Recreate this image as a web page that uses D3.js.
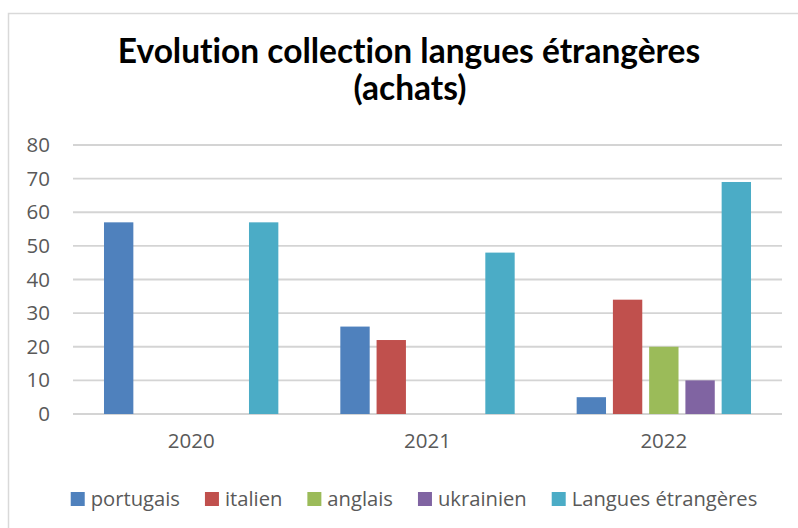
<!DOCTYPE html>
<html>
<head>
<meta charset="utf-8">
<script src="https://cdn.jsdelivr.net/npm/d3@7"></script>
<style>
  body { margin: 0; background: #fff; }
</style>
</head>
<body>
<div class="svgcontainer"></div>
<script>
// data
const years = ['2020', '2021', '2022'];
const series = ['portugais', 'italien', 'anglais', 'ukrainien', 'Langues étrangères'];
const portugais = [57, 26, 5];
const italien = [0, 22, 34];
const anglais = [0, 0, 20];
const ukrainien = [0, 0, 10];
const languesEtrangeres = [57, 48, 69];
const yTicks = [0, 10, 20, 30, 40, 50, 60, 70, 80];
const colors = ['#4f81bd', '#c0504d', '#9bbb59', '#8064a2', '#4bacc6'];

const values = [portugais, italien, anglais, ukrainien, languesEtrangeres];

const svg = d3
  .select('.svgcontainer')
  .append('svg')
  .attr('width', 798)
  .attr('height', 528);

// chart frame (right and bottom edges fall outside the picture)
svg.append('rect')
  .attr('x', 8.5)
  .attr('y', 13.5)
  .attr('width', 820)
  .attr('height', 560)
  .attr('fill', '#fff')
  .attr('stroke', '#d9d9d9')
  .attr('stroke-width', 1.5);

// title
const title = svg.append('text')
  .attr('text-anchor', 'middle')
  .style('font-family', 'Lato, sans-serif')
  .style('font-weight', 'bold')
  .style('font-size', '33.5px')
  .style('font-variant-ligatures', 'none')
  .attr('fill', '#000');
title.append('tspan').attr('x', 409).attr('y', 63).text('Evolution collection langues étrangères');
title.append('tspan').attr('x', 410).attr('y', 100).text('(achats)');

const plotLeft = 73, plotRight = 782, plotTop = 145, plotBottom = 414;

const x0 = d3.scaleBand()
  .domain(years)
  .range([plotLeft, plotRight])
  .padding(0);

const x1 = d3.scaleBand()
  .domain(series)
  .range([0, x0.bandwidth()])
  .paddingInner(0.19)
  .paddingOuter(0.855);

const y = d3.scaleLinear()
  .domain([0, 80])
  .range([plotBottom, plotTop]);

// gridlines
svg.append('g')
  .selectAll('line')
  .data(yTicks)
  .enter()
  .append('line')
  .attr('x1', plotLeft)
  .attr('x2', plotRight)
  .attr('y1', d => y(d))
  .attr('y2', d => y(d))
  .attr('stroke', '#d4d4d4')
  .attr('stroke-width', 1.8);

const labelFont = '"Open Sans", sans-serif';

// y labels
const yAxis = svg.append('g')
  .attr('transform', `translate(${plotLeft},0)`)
  .call(d3.axisLeft(y).tickValues(yTicks).tickSize(0).tickPadding(23));
yAxis.select('.domain').remove();
yAxis.selectAll('text')
  .style('font-family', labelFont)
  .style('font-size', '20.5px')
  .attr('fill', '#595959');

// x labels
const xAxis = svg.append('g')
  .attr('transform', `translate(0,${plotBottom})`)
  .call(d3.axisBottom(x0).tickSize(0).tickPadding(19));
xAxis.select('.domain').remove();
xAxis.selectAll('text')
  .style('font-family', labelFont)
  .style('font-size', '20.5px')
  .attr('fill', '#595959');

// bars
const rows = [];
years.forEach((yr, i) => {
  series.forEach((s, j) => {
    rows.push({year: yr, serie: s, value: values[j][i], color: colors[j]});
  });
});

svg.append('g')
  .selectAll('rect')
  .data(rows.filter(d => d.value > 0))
  .enter()
  .append('rect')
  .attr('x', d => x0(d.year) + x1(d.serie))
  .attr('y', d => y(d.value))
  .attr('width', x1.bandwidth())
  .attr('height', d => y(0) - y(d.value))
  .attr('fill', d => d.color);

// legend
const legend = svg.append('g');
const items = legend.selectAll('g')
  .data(series)
  .enter()
  .append('g');
items.append('rect')
  .attr('width', 14)
  .attr('height', 14)
  .attr('y', 492)
  .attr('fill', (d, i) => colors[i]);
items.append('text')
  .attr('x', 20)
  .attr('y', 506)
  .style('font-family', labelFont)
  .style('font-size', '20.2px')
  .attr('fill', '#595959')
  .text(d => d);

let pos = 0;
const offsets = [];
items.each(function() {
  const w = d3.select(this).select('text').node().getComputedTextLength();
  offsets.push(pos);
  pos += 20 + w + 25;
});
const total = pos - 25;
const start = 414 - total / 2;
items.attr('transform', (d, i) => `translate(${start + offsets[i]},0)`);
</script>
</body>
</html>
